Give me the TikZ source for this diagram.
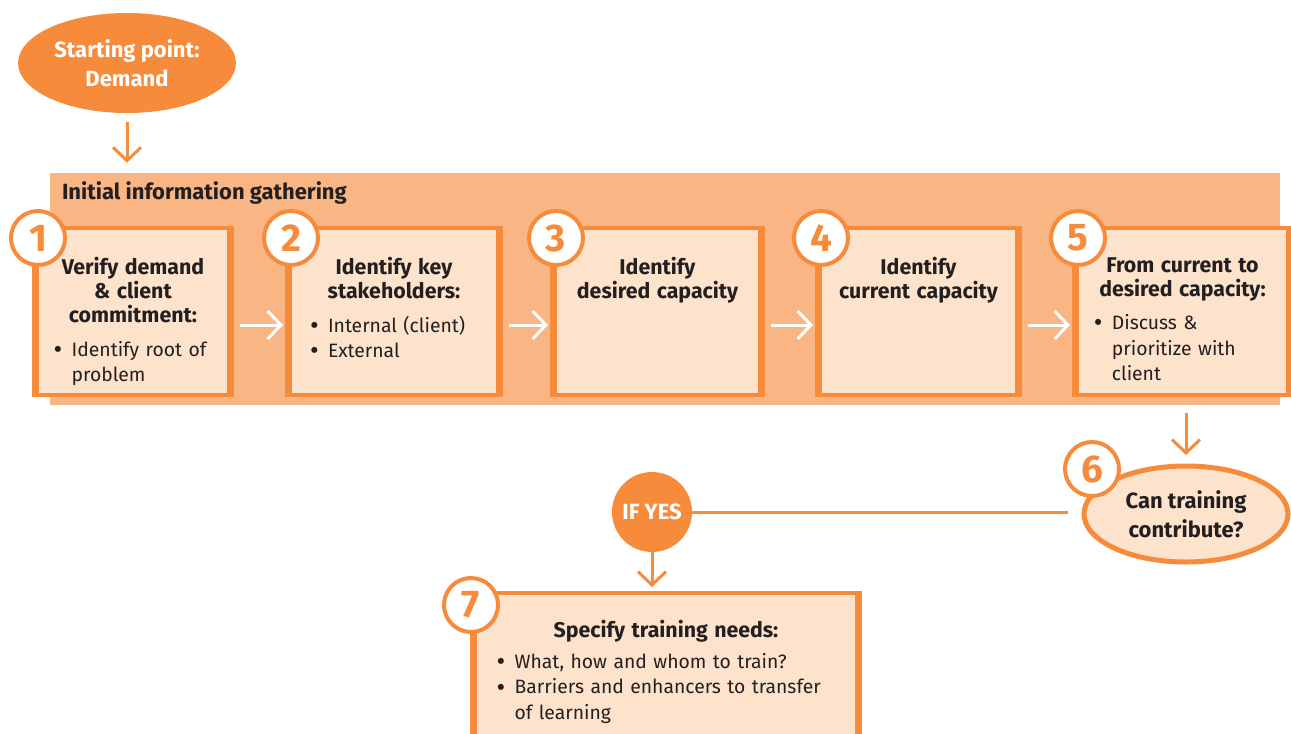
\documentclass[tikz,border=0pt]{standalone}
\usepackage{fontspec}
\setmainfont{Fira Sans}
\usetikzlibrary{positioning,fit,shapes.geometric,arrows.meta}

\definecolor{orangemain}{HTML}{F68B3B}
\definecolor{orangeband}{HTML}{F9B583}
\definecolor{peach}{HTML}{FDE2CC}
\definecolor{darktext}{HTML}{231F20}

\newcommand{\bitem}[1]{\par\noindent\makebox[13.5pt][l]{\raisebox{-1.6pt}{\fontsize{20}{0}\selectfont\textbullet}}%
  \parbox[t]{\dimexpr\linewidth-13.5pt}{\raggedright #1}}
\newcommand{\boxtitle}[1]{{\centering\bfseries\fontsize{16}{18}\selectfont #1\par}}

\tikzset{
  stepbox/.style={draw=orangemain, fill=peach, line width=3pt, inner sep=0pt},
  numcirc/.style={circle, draw=orangemain, fill=white, line width=3pt, minimum size=40.5pt,
    inner sep=0pt, text=orangemain, font=\fontsize{29}{29}\selectfont\bfseries},
  boxtext/.style={inner sep=0pt, text=darktext, align=left, font=\fontsize{14.5}{19}\selectfont},
  oline/.style={draw=orangemain, line width=2.25pt},
  oarrow/.style={oline, -{Straight Barb[length=10pt,width=21pt]}},
  wharrow/.style={draw=white, line width=2.25pt, -{Straight Barb[length=10pt,width=21pt]}},
  boldlabel/.style={font=\fontsize{16.5}{21.5}\selectfont\bfseries, align=center},
}

\begin{document}
\begin{tikzpicture}[x=0.75pt, y=-0.75pt]
  \useasboundingbox (0,0) rectangle (1291,733);
  \clip (0,0) rectangle (1291,733);

  \node[ellipse, fill=orangemain, minimum width=157.5pt, minimum height=75pt, text=white, boldlabel] (start) at (127,63) {Starting point:\\ Demand};

  \node[fill=orangeband, inner sep=0pt, fit={(50,173) (1280,405)}] (band) {};
  \node[anchor=north west, inner sep=0pt, text=darktext, font=\fontsize{16.5}{18}\selectfont\bfseries] (bandlabel) at ([shift={(12,9)}]band.north west) {Initial information gathering};

  \node[stepbox, fit={(37,228) (229,395)}] (box1) {};
  \node[stepbox, fit={(290,228) (498,395)}] (box2) {};
  \node[stepbox, fit={(555,228) (760,395)}] (box3) {};
  \node[stepbox, fit={(820,228) (1017,395)}] (box4) {};
  \node[stepbox, fit={(1077,228) (1288,395)}] (box5) {};
  \node[stepbox, fit={(475,593) (857,780)}] (box7) {};
  \foreach \b in {box1,box2,box3,box4,box5,box7}
    \draw[orangemain, line width=4.5pt] (\b.north west) -- (\b.south west) (\b.north east) -- (\b.south east);

  \node[boxtext, text width=119pt, below=23.5pt of box1.north] (txt1) {\boxtitle{Verify demand\\ \& client\\ commitment:}\vspace{6pt}\bitem{Identify root of\\ problem}};
  \node[boxtext, text width=126pt, below=23.5pt of box2.north] (txt2) {\boxtitle{Identify key\\ stakeholders:}\vspace{6pt}\bitem{Internal (client)}\bitem{External}};
  \node[boxtext, text width=126pt, below=23.5pt of box3.north] (txt3) {\boxtitle{Identify\\ desired capacity}};
  \node[boxtext, text width=124pt, below=23.5pt of box4.north] (txt4) {\boxtitle{Identify\\ current capacity}};
  \node[boxtext, text width=133pt, below=23.5pt of box5.north] (txt5) {\boxtitle{From current to\\ desired capacity:}\vspace{6pt}\bitem{Discuss \&\\ prioritize with\\ client}};
  \node[boxtext, text width=254pt, below=22pt of box7.north] (txt7) {\boxtitle{Specify training needs:}\vspace{4pt}\bitem{What, how and whom to train?}\bitem{Barriers and enhancers to transfer\\ of learning}};

  \node[ellipse, draw=orangemain, fill=peach, line width=3.75pt, minimum width=153pt, minimum height=72pt, text=darktext, boldlabel] (can) at (1186,514) {Can training\\ contribute?};
  \node[circle, fill=orangemain, minimum size=60pt, inner sep=0pt, text=white, boldlabel] (ifyes) at (652,512) {IF YES};

  \draw[oarrow, shorten <=6.75pt, shorten >=7.5pt] (start.south) -- (start.south |- band.north);
  \foreach \a/\b in {1/2,2/3,3/4,4/5}
    \draw[wharrow] ([shift={(9,13.5)}]box\a.east) -- ([shift={(-5,13.5)}]box\b.west);
  \draw[oarrow, shorten <=12pt, shorten >=6.4pt] (box5.south -| can.north) -- (can.north);
  \draw[oline, shorten >=10pt] (ifyes.east) -- (ifyes.east -| can.west);
  \draw[oarrow, shorten >=3pt] (ifyes.south) -- (ifyes.south |- box7.north);

  \foreach \i in {1,...,5}
    \node[numcirc] (num\i) at ([shift={(3,12)}]box\i.north west) {\i};
  \node[numcirc] (num6) at (1092,469) {6};
  \node[numcirc] (num7) at ([shift={(-2,14)}]box7.north west) {7};
\end{tikzpicture}
\end{document}
